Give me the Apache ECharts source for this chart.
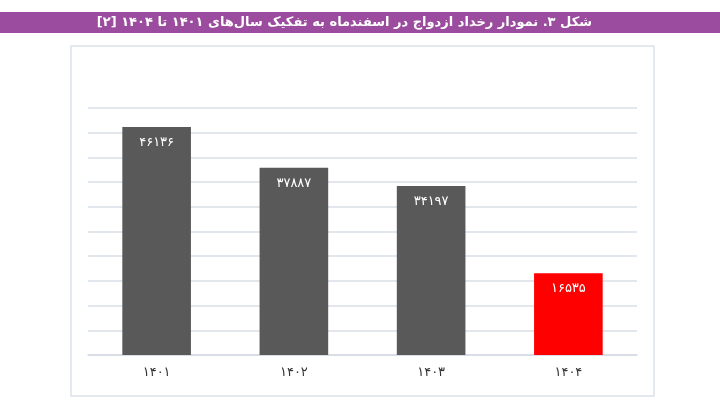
<!DOCTYPE html>
<html>
<head>
<meta charset="utf-8">
<script src="https://cdn.jsdelivr.net/npm/echarts@6/dist/echarts.min.js"></script>
<style>
  html, body { margin: 0; padding: 0; background: #fff; }
  #main { width: 720px; height: 404px; }
</style>
</head>
<body>
<div id="main" dir="rtl"></div>
<script>
// سال‌ها و تعداد ازدواج در اسفندماه
var years = ['۱۴۰۱', '۱۴۰۲', '۱۴۰۳', '۱۴۰۴'];
var marriages = [46136, 37887, 34197, 16535];
var barColors = ['#595959', '#595959', '#595959', '#ff0000'];
var chartTitle = 'شکل ۳. نمودار رخداد ازدواج در اسفندماه به تفکیک سال‌های ۱۴۰۱ تا ۱۴۰۴ [۲]';

function toFa(n) {
    return String(n).replace(/[0-9]/g, function (d) {
        return '۰۱۲۳۴۵۶۷۸۹'.charAt(+d);
    });
}

var myChart = echarts.init(document.getElementById('main'));
var option = {
    backgroundColor: '#fff',
    animation: false,
    textStyle: { fontFamily: 'DejaVu Sans' },
    graphic: [
        {
            type: 'rect',
            shape: { x: 0, y: 12, width: 720, height: 21 },
            style: { fill: '#9b4c9e' },
            silent: true
        },
        {
            type: 'text',
            x: 592, y: 22.5,
            style: {
                text: chartTitle,
                fill: '#fff',
                font: 'bold 13px "DejaVu Sans"',
                align: 'right',
                verticalAlign: 'middle'
            },
            silent: true
        },
        {
            type: 'rect',
            shape: { x: 71, y: 46, width: 583, height: 350 },
            style: { fill: 'none', stroke: '#dbe2ea', lineWidth: 1.5 },
            silent: true
        }
    ],
    grid: { left: 88, right: 83, top: 108, bottom: 49 },
    xAxis: {
        type: 'category',
        data: years,
        axisLine: { lineStyle: { color: '#d6dce4', width: 1.5 } },
        axisTick: { show: false },
        axisLabel: { color: '#333', fontSize: 13, margin: 11 }
    },
    yAxis: {
        type: 'value',
        min: 0,
        max: 50000,
        interval: 5000,
        axisLine: { show: false },
        axisTick: { show: false },
        axisLabel: { show: false },
        splitLine: { lineStyle: { color: '#d9dfe7', width: 1.5 } }
    },
    series: [{
        type: 'bar',
        barWidth: '50%',
        data: marriages.map(function (v, i) {
            return { value: v, itemStyle: { color: barColors[i] } };
        }),
        label: {
            show: true,
            position: 'insideTop',
            distance: 9,
            color: '#fff',
            fontSize: 13,
            formatter: function (p) { return toFa(p.value); }
        }
    }]
};
myChart.setOption(option);
</script>
</body>
</html>
